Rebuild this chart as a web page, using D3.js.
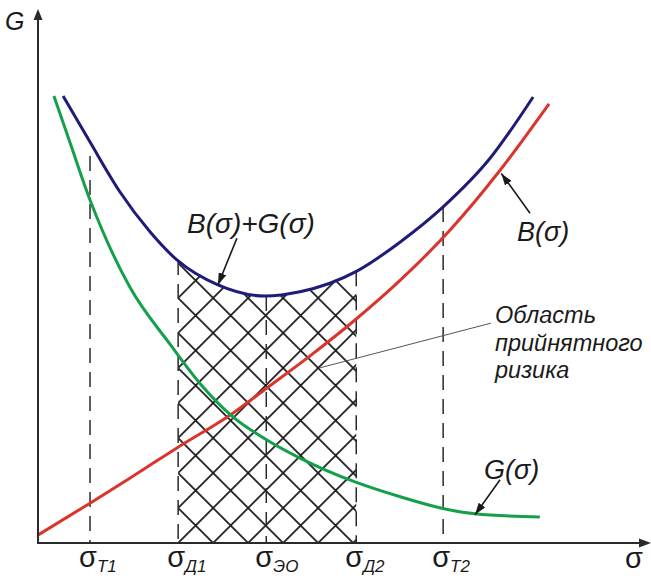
<!DOCTYPE html>
<html>
<head>
<meta charset="utf-8">
<script src="https://cdn.jsdelivr.net/npm/d3@7"></script>
<style>
  body { margin: 0; background: #fff; }
  svg { display: block; }
  text { font-family: "Liberation Sans", Arial, sans-serif; fill: #1a1a1a; }
</style>
</head>
<body>
<svg id="chart" width="651" height="580"></svg>
<script>
// Marked levels of σ: subscript, position, top of the guide line (G units)
const sigmaSubs = ["T1", "Д1", "ЭО", "Д2", "T2"];
const sigmaX    = [8.5, 22.9, 37.3, 52.0, 66.2];
const sigmaTop  = [72.9, 53.3, 46.5, 51.2, 63.3];

// B(σ) — rising cost curve
const bX = [0, 8.5, 15.0, 22.7, 31.9, 37.4, 44.4, 51.8, 59.2, 67.3, 75.5, 83.5];
const bY = [1.5, 7.5, 12.2, 17.9, 24.5, 29.2, 35.2, 42.0, 49.5, 58.9, 70.2, 82.7];

// G(σ) — falling curve
const gX = [2.6, 5.2, 8.5, 10.5, 15.0, 21.6, 26.5, 31.9, 37.4, 42.8, 51.8, 59.2, 65.8, 71.4, 82.0];
const gY = [84.2, 75.5, 64.6, 58.9, 48.2, 37.4, 30.0, 23.7, 19.4, 16.0, 11.5, 8.7, 6.6, 5.5, 4.9];

// B(σ)+G(σ) — total curve
const sX = [4.1, 8.5, 13.4, 18.3, 22.7, 29.4, 37.1, 42.8, 52.1, 59.2, 66.2, 73.9, 80.9];
const sY = [84.2, 75.5, 66.1, 58.6, 53.3, 48.6, 46.5, 47.3, 51.2, 56.7, 63.3, 72.5, 84.0];

const zip = (xs, ys) => xs.map((x, i) => ({ x, y: ys[i] }));
const bData = zip(bX, bY), gData = zip(gX, gY), sData = zip(sX, sY);

const svg = d3.select("#chart");
const x = d3.scaleLinear().domain([0, 100]).range([38, 650]);
const y = d3.scaleLinear().domain([0, 100]).range([543, 12]);

const line = d3.line().x(d => x(d.x)).y(d => y(d.y)).curve(d3.curveMonotoneX);

const defs = svg.append("defs");

// cross-hatch for the accepted-risk region
const pat = defs.append("pattern")
  .attr("id", "hatch").attr("patternUnits", "userSpaceOnUse")
  .attr("width", 35).attr("height", 35)
  .attr("x", x(sigmaX[1])).attr("y", y(0));
pat.append("path")
  .attr("d", "M-5,40L40,-5M-5,-5L40,40")
  .attr("stroke", "#1a1a1a").attr("stroke-width", 1.7).attr("fill", "none");

defs.append("clipPath").attr("id", "band")
  .append("rect")
  .attr("x", x(sigmaX[1])).attr("y", 0)
  .attr("width", x(sigmaX[3]) - x(sigmaX[1])).attr("height", y(0));

defs.append("clipPath").attr("id", "under")
  .append("path")
  .attr("d", d3.area().x(d => x(d.x)).y0(y(0)).y1(d => y(d.y)).curve(d3.curveMonotoneX)(sData));

svg.append("g").attr("clip-path", "url(#band)")
  .append("g").attr("clip-path", "url(#under)")
  .append("rect")
  .attr("x", 0).attr("y", 0).attr("width", 651).attr("height", y(0))
  .attr("fill", "url(#hatch)");

// arrowhead marker
defs.append("marker")
  .attr("id", "tip").attr("viewBox", "0 0 12 8")
  .attr("refX", 12).attr("refY", 4)
  .attr("markerWidth", 12).attr("markerHeight", 8)
  .attr("markerUnits", "userSpaceOnUse").attr("orient", "auto")
  .append("path").attr("d", "M0,0L12,4L0,8Z").attr("fill", "#1a1a1a");

// dashed guide lines at the marked σ levels
svg.append("g").selectAll("line")
  .data(sigmaX.map((v, i) => ({ v, top: sigmaTop[i] })))
  .join("line")
  .attr("x1", d => x(d.v)).attr("x2", d => x(d.v))
  .attr("y1", d => y(d.top)).attr("y2", y(0))
  .attr("stroke", "#2a2a2a").attr("stroke-width", 1.5)
  .attr("stroke-dasharray", "15,9");

// curves
svg.append("path").datum(bData).attr("d", line)
  .attr("fill", "none").attr("stroke", "#d9352d").attr("stroke-width", 3);
svg.append("path").datum(gData).attr("d", line)
  .attr("fill", "none").attr("stroke", "#14a04b").attr("stroke-width", 3);
svg.append("path").datum(sData).attr("d", line)
  .attr("fill", "none").attr("stroke", "#1f1c78").attr("stroke-width", 3);

// axes with arrows
const axisColor = "#2a2a2a";
svg.append("line").attr("x1", x(0)).attr("x2", x(0)).attr("y1", y(0) + 1).attr("y2", 18)
  .attr("stroke", axisColor).attr("stroke-width", 2);
svg.append("path").attr("d", `M${x(0)},9L${x(0) - 4.5},20L${x(0) + 4.5},20Z`).attr("fill", axisColor);
svg.append("line").attr("x1", x(0) - 1).attr("x2", 640).attr("y1", y(0)).attr("y2", y(0))
  .attr("stroke", axisColor).attr("stroke-width", 2);
svg.append("path").attr("d", `M651,${y(0)}L639,${y(0) - 4.5}L639,${y(0) + 4.5}Z`).attr("fill", axisColor);

svg.append("text").attr("x", 5).attr("y", 30).attr("font-size", 25)
  .attr("font-style", "italic").text("G");
svg.append("text").attr("x", 625).attr("y", 568).attr("font-size", 29).text("σ");

// σ tick labels with italic subscripts
const ticks = svg.append("g").selectAll("text")
  .data(sigmaX.map((v, i) => ({ v, sub: sigmaSubs[i] })))
  .join("text")
  .attr("x", d => x(d.v) - 11).attr("y", 567).attr("font-size", 29);
ticks.append("tspan").text("σ");
ticks.append("tspan").attr("font-size", 17).attr("font-style", "italic")
  .attr("dy", 5).text(d => d.sub);

// annotations
function pointer(from, to, head) {
  svg.append("line")
    .attr("x1", x(from[0])).attr("y1", y(from[1]))
    .attr("x2", x(to[0])).attr("y2", y(to[1]))
    .attr("stroke", head ? "#1a1a1a" : "#555")
    .attr("stroke-width", head ? 1.6 : 1)
    .attr("marker-end", head ? "url(#tip)" : null);
}
pointer([32.5, 57.4], [29.4, 48.6], true);
pointer([80.4, 62.1], [75.7, 69.6], true);
pointer([75.5, 11.9], [71.4, 5.3], true);
pointer([74.0, 41.4], [46.1, 33.0], false);

const label = (px, py, t, fs) => svg.append("text").attr("x", px).attr("y", py)
  .attr("font-size", fs).attr("font-style", "italic").text(t);
label(187, 233, "B(σ)+G(σ)", 28);
label(517, 241, "B(σ)", 27);
label(484, 479, "G(σ)", 27);

const note = svg.append("text").attr("font-size", 23.5).attr("font-style", "italic");
["Область", "прийнятного", "ризика"].forEach((t, i) =>
  note.append("tspan").attr("x", 495).attr("y", 323 + i * 27.5).text(t));
</script>
</body>
</html>
